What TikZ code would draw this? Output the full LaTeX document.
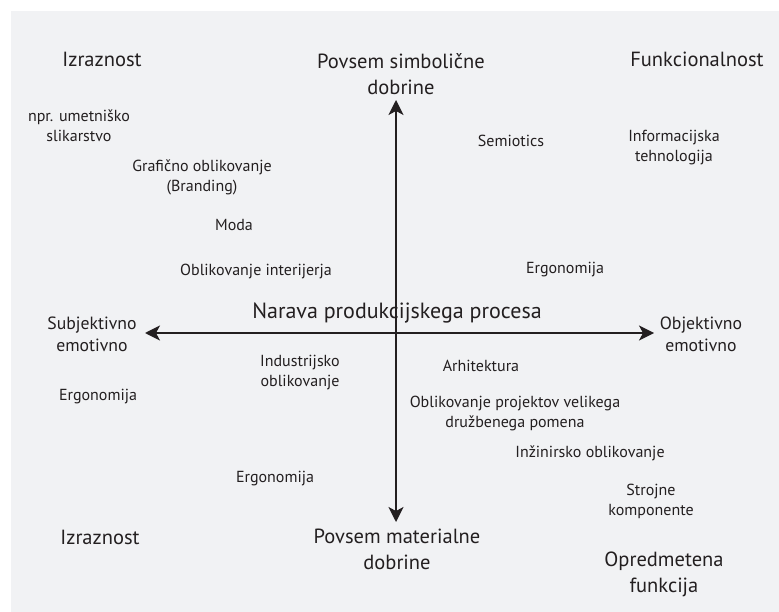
\documentclass[tikz,border=0pt]{standalone}
\usepackage{fontspec}
\setmainfont{PT Sans}
\usetikzlibrary{arrows.meta}
\definecolor{bgc}{HTML}{F1F2F4}
\definecolor{ink}{HTML}{231F20}
\tikzset{
  big/.style={text=ink, align=center, inner sep=0pt, font=\fontsize{20.5}{26}\selectfont},
  mid/.style={text=ink, align=center, inner sep=0pt, font=\fontsize{17.7}{22}\selectfont},
  small/.style={text=ink, align=center, inner sep=0pt, font=\fontsize{16}{20}\selectfont},
  axis/.style={draw=ink, line width=1.6pt, {Stealth[length=15pt,width=15pt,inset=4pt]}-{Stealth[length=15pt,width=15pt,inset=4pt]}}
}
\begin{document}
\begin{tikzpicture}[x=1pt,y=-1pt]
\useasboundingbox (0,0) rectangle (779,612);
\fill[white] (0,0) rectangle (779,612);
\fill[bgc] (11,11) rectangle (779,612);
% axes
\coordinate (N) at (396,100);
\coordinate (S) at (396,522);
\coordinate (W) at (145,333);
\coordinate (E) at (654,333);
\draw[axis] (N) -- (S);
\draw[axis] (W) -- (E);
% corner / axis labels
\node[big] (izt) at (102,59) {Izraznost};
\node[big] (top) at (401,74) {Povsem simbolične\\dobrine};
\node[big] (fun) at (697,59) {Funkcionalnost};
\node[big] (izb) at (100,537) {Izraznost};
\node[big] (bot) at (397,549) {Povsem materialne\\dobrine};
\node[big] (opr) at (664,574) {Opredmetena\\funkcija};
\node[big, font=\fontsize{22}{26}\selectfont] (nar) at (397,313) {Narava produkcijskega procesa};
\node[mid] (sub) at (92,334) {Subjektivno\\emotivno};
\node[mid] (obj) at (701,334) {Objektivno\\emotivno};
% items
\node[small] (npr) at (79,126) {npr. umetniško\\slikarstvo};
\node[small] (gra) at (202,177) {Grafično oblikovanje\\(Branding)};
\node[small] (sem) at (511,141) {Semiotics};
\node[small] (inf) at (674,148) {Informacijska\\tehnologija};
\node[small] (mod) at (234,225) {Moda};
\node[small] (int) at (256,272) {Oblikovanje interijerja};
\node[small] (erg1) at (565,270) {Ergonomija};
\node[small] (ind) at (300,373) {Industrijsko\\oblikovanje};
\node[small] (arh) at (481,366) {Arhitektura};
\node[small] (ovp) at (515,413) {Oblikovanje projektov velikega\\družbenega pomena};
\node[small] (erg2) at (98,397) {Ergonomija};
\node[small] (inz) at (590,453) {Inžinirsko oblikovanje};
\node[small] (erg3) at (275,479) {Ergonomija};
\node[small] (str) at (651,501) {Strojne\\komponente};
\end{tikzpicture}
\end{document}
